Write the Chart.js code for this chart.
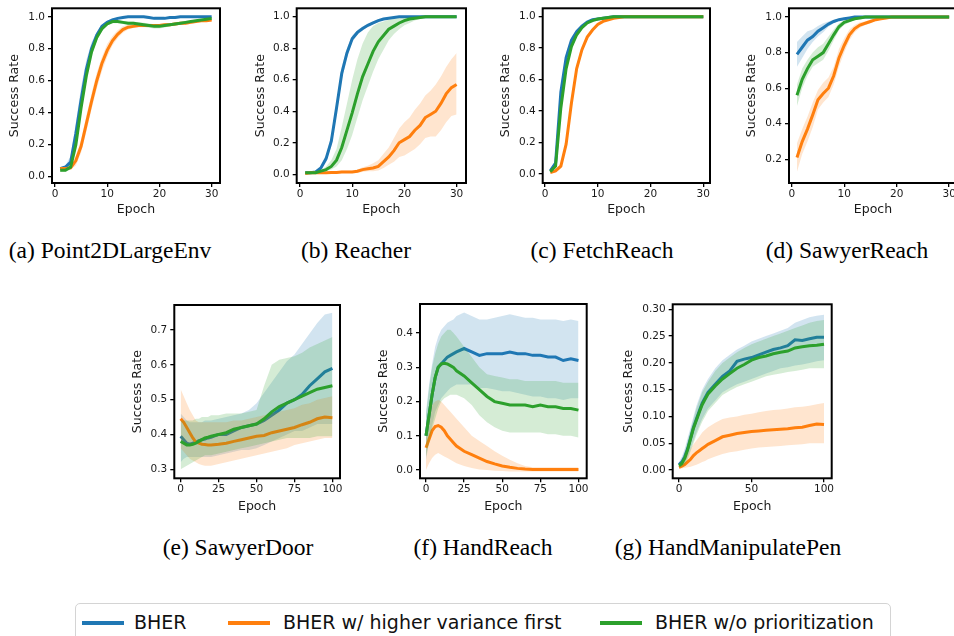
<!DOCTYPE html>
<html>
<head>
<meta charset="utf-8">
<script src="https://cdn.jsdelivr.net/npm/chart.js@4.4.1/dist/chart.umd.min.js"></script>
<style>
body { margin: 0; width: 954px; height: 636px; overflow: hidden; background: #fff; position: relative; }
canvas { position: absolute; }
.cap { position: absolute; width: 400px; text-align: center; font-family: "Liberation Serif", serif; font-size: 23.5px; line-height: 26px; color: #000; white-space: nowrap; }
.legend { position: absolute; left: 75px; top: 603px; width: 816px; height: 48px; border: 1px solid #d4d4d4; border-radius: 5px; box-sizing: border-box; }
.lline { position: absolute; height: 4px; top: 621px; }
.ltext { position: absolute; top: 611px; font-family: "DejaVu Sans", sans-serif; font-size: 19px; line-height: 22px; color: #111; white-space: nowrap; }
</style>
</head>
<body>
<canvas id="cA"></canvas>
<canvas id="cB"></canvas>
<canvas id="cC"></canvas>
<canvas id="cD"></canvas>
<canvas id="cE"></canvas>
<canvas id="cF"></canvas>
<canvas id="cG"></canvas>

<div class="cap" style="left:-90px;top:237px">(a) Point2DLargeEnv</div>
<div class="cap" style="left:156px;top:237px">(b) Reacher</div>
<div class="cap" style="left:402px;top:237px">(c) FetchReach</div>
<div class="cap" style="left:647px;top:237px">(d) SawyerReach</div>
<div class="cap" style="left:38px;top:534px">(e) SawyerDoor</div>
<div class="cap" style="left:283px;top:534px">(f) HandReach</div>
<div class="cap" style="left:528px;top:534px">(g) HandManipulatePen</div>

<div class="legend"></div>
<div class="lline" style="left:82px;width:42px;background:#1f77b4"></div>
<div class="ltext" style="left:134px">BHER</div>
<div class="lline" style="left:228px;width:42px;background:#ff7f0e"></div>
<div class="ltext" style="left:283px">BHER w/ higher variance first</div>
<div class="lline" style="left:600px;width:42px;background:#2ca02c"></div>
<div class="ltext" style="left:655px">BHER w/o prioritization</div>

<script>
// epochs
var epochs30 = [1,2,3,4,5,6,7,8,9,10,11,12,13,14,15,16,17,18,19,20,21,22,23,24,25,26,27,28,29,30];
var epochs100 = [0,2,4,6,8,10,12,14,16,18,20,25,30,35,40,45,50,55,60,65,70,75,80,85,90,95,100];

// (a) Point2DLargeEnv
var aBher   = [0.05,0.06,0.09,0.27,0.48,0.67,0.80,0.885,0.94,0.965,0.98,0.99,0.995,1,1,1,1,0.995,0.99,0.99,0.99,0.995,0.995,1,1,1,1,1,1,1];
var aBherLo = [0.04,0.05,0.07,0.22,0.42,0.62,0.76,0.86,0.925,0.955,0.972,0.984,0.99,0.994,0.994,0.994,0.993,0.988,0.983,0.983,0.983,0.988,0.988,0.993,0.994,0.994,0.994,0.994,0.994,0.994];
var aBherHi = [0.06,0.07,0.13,0.34,0.56,0.73,0.84,0.905,0.952,0.975,0.988,0.995,1,1,1,1,1,1,0.997,0.997,0.997,1,1,1,1,1,1,1,1,1];
var aVar    = [0.05,0.05,0.055,0.10,0.19,0.33,0.47,0.60,0.71,0.79,0.85,0.89,0.92,0.935,0.94,0.945,0.945,0.945,0.945,0.945,0.95,0.95,0.955,0.96,0.96,0.965,0.97,0.975,0.975,0.98];
var aVarLo  = [0.04,0.04,0.045,0.07,0.15,0.28,0.42,0.55,0.66,0.75,0.82,0.865,0.9,0.92,0.93,0.935,0.935,0.935,0.935,0.935,0.94,0.94,0.945,0.95,0.95,0.955,0.962,0.967,0.968,0.972];
var aVarHi  = [0.06,0.06,0.065,0.13,0.23,0.38,0.52,0.65,0.75,0.83,0.88,0.915,0.94,0.95,0.953,0.955,0.955,0.955,0.955,0.955,0.96,0.96,0.965,0.97,0.97,0.975,0.978,0.983,0.982,0.988];
var aNoPr   = [0.04,0.04,0.06,0.20,0.43,0.63,0.78,0.87,0.925,0.955,0.97,0.97,0.965,0.96,0.96,0.955,0.95,0.945,0.94,0.94,0.945,0.95,0.955,0.96,0.965,0.97,0.975,0.98,0.985,0.99];
var aNoPrLo = [0.03,0.03,0.045,0.17,0.39,0.60,0.755,0.85,0.91,0.945,0.96,0.96,0.955,0.95,0.95,0.944,0.938,0.932,0.927,0.927,0.933,0.94,0.946,0.952,0.957,0.962,0.968,0.974,0.979,0.984];
var aNoPrHi = [0.05,0.05,0.075,0.23,0.47,0.66,0.805,0.89,0.94,0.965,0.978,0.978,0.975,0.97,0.97,0.966,0.962,0.958,0.953,0.953,0.957,0.96,0.964,0.968,0.973,0.978,0.982,0.986,0.99,0.995];

// (b) Reacher
var bBher   = [0.01,0.01,0.015,0.04,0.10,0.21,0.42,0.64,0.77,0.86,0.90,0.925,0.945,0.96,0.975,0.985,0.99,0.995,1,1,1,1,1,1,1,1,1,1,1,1];
var bBherLo = [0.005,0.005,0.01,0.03,0.08,0.18,0.38,0.60,0.74,0.84,0.885,0.912,0.935,0.952,0.968,0.98,0.986,0.992,0.997,0.998,0.998,0.998,0.998,0.998,0.998,0.998,0.998,0.998,0.998,0.998];
var bBherHi = [0.015,0.015,0.02,0.05,0.12,0.25,0.46,0.68,0.80,0.88,0.915,0.938,0.955,0.968,0.982,0.99,0.994,0.998,1,1,1,1,1,1,1,1,1,1,1,1];
var bVar    = [0.005,0.01,0.01,0.01,0.01,0.012,0.012,0.015,0.015,0.015,0.02,0.03,0.035,0.04,0.05,0.08,0.11,0.15,0.20,0.22,0.24,0.28,0.31,0.36,0.38,0.40,0.45,0.51,0.55,0.57];
var bVarLo  = [0,0.005,0.005,0.005,0.005,0.005,0.005,0.008,0.008,0.008,0.01,0.015,0.02,0.02,0.025,0.04,0.06,0.08,0.11,0.12,0.14,0.16,0.19,0.23,0.24,0.24,0.28,0.33,0.37,0.38];
var bVarHi  = [0.01,0.015,0.015,0.015,0.015,0.02,0.02,0.025,0.025,0.025,0.03,0.045,0.055,0.07,0.09,0.13,0.17,0.23,0.29,0.33,0.36,0.41,0.45,0.50,0.53,0.57,0.62,0.68,0.73,0.77];
var bNoPr   = [0.01,0.01,0.01,0.02,0.03,0.05,0.09,0.17,0.28,0.39,0.51,0.62,0.70,0.78,0.84,0.88,0.92,0.94,0.96,0.975,0.985,0.99,0.995,1,1,1,1,1,1,1];
var bNoPrLo = [0.005,0.005,0.008,0.015,0.02,0.03,0.05,0.09,0.16,0.25,0.36,0.47,0.56,0.65,0.73,0.79,0.85,0.89,0.92,0.945,0.96,0.975,0.985,0.99,0.995,0.998,0.998,0.998,0.998,0.998];
var bNoPrHi = [0.015,0.015,0.015,0.025,0.05,0.09,0.16,0.30,0.45,0.60,0.73,0.83,0.90,0.94,0.96,0.97,0.98,0.985,0.99,0.995,1,1,1,1,1,1,1,1,1,1];

// (c) FetchReach
var cBher   = [0.02,0.07,0.52,0.74,0.85,0.905,0.94,0.965,0.98,0.985,0.99,0.995,1,1,1,1,1,1,1,1,1,1,1,1,1,1,1,1,1,1];
var cBherLo = [0.01,0.05,0.47,0.71,0.83,0.89,0.93,0.957,0.974,0.98,0.986,0.992,0.996,0.998,0.998,0.998,0.998,0.998,0.998,0.998,0.998,0.998,0.998,0.998,0.998,0.998,0.998,0.998,0.998,0.998];
var cBherHi = [0.03,0.09,0.57,0.77,0.87,0.92,0.95,0.972,0.985,0.99,0.994,0.998,1,1,1,1,1,1,1,1,1,1,1,1,1,1,1,1,1,1];
var cVar    = [0.01,0.02,0.05,0.19,0.45,0.67,0.79,0.87,0.915,0.95,0.97,0.98,0.99,0.995,1,1,1,1,1,1,1,1,1,1,1,1,1,1,1,1];
var cVarLo  = [0.005,0.012,0.035,0.16,0.41,0.64,0.77,0.855,0.905,0.942,0.964,0.976,0.986,0.992,0.997,0.998,0.998,0.998,0.998,0.998,0.998,0.998,0.998,0.998,0.998,0.998,0.998,0.998,0.998,0.998];
var cVarHi  = [0.015,0.028,0.065,0.22,0.49,0.70,0.81,0.885,0.925,0.958,0.976,0.985,0.994,0.998,1,1,1,1,1,1,1,1,1,1,1,1,1,1,1,1];
var cNoPr   = [0.015,0.05,0.42,0.67,0.81,0.885,0.93,0.96,0.975,0.985,0.99,0.995,1,1,1,1,1,1,1,1,1,1,1,1,1,1,1,1,1,1];
var cNoPrLo = [0.008,0.035,0.38,0.64,0.79,0.87,0.92,0.952,0.97,0.98,0.986,0.992,0.996,0.998,0.998,0.998,0.998,0.998,0.998,0.998,0.998,0.998,0.998,0.998,0.998,0.998,0.998,0.998,0.998,0.998];
var cNoPrHi = [0.022,0.065,0.46,0.70,0.83,0.9,0.94,0.968,0.98,0.99,0.994,0.998,1,1,1,1,1,1,1,1,1,1,1,1,1,1,1,1,1,1];

// (d) SawyerReach
var dBher   = [0.79,0.83,0.87,0.89,0.92,0.94,0.96,0.975,0.985,0.99,0.995,1,1,1,1,1,1,1,1,1,1,1,1,1,1,1,1,1,1,1];
var dBherLo = [0.72,0.77,0.82,0.86,0.89,0.915,0.945,0.965,0.978,0.985,0.99,0.995,0.998,0.998,0.998,0.998,0.998,0.998,0.998,0.998,0.998,0.998,0.998,0.998,0.998,0.998,0.998,0.998,0.998,0.998];
var dBherHi = [0.86,0.89,0.92,0.93,0.95,0.965,0.975,0.985,0.99,0.995,1,1,1,1,1,1,1,1,1,1,1,1,1,1,1,1,1,1,1,1];
var dVar    = [0.21,0.30,0.37,0.45,0.535,0.57,0.60,0.67,0.77,0.84,0.90,0.935,0.955,0.965,0.975,0.985,0.99,0.995,1,1,1,1,1,1,1,1,1,1,1,1];
var dVarLo  = [0.13,0.23,0.30,0.38,0.48,0.52,0.55,0.62,0.72,0.80,0.87,0.915,0.94,0.955,0.965,0.978,0.985,0.99,0.995,0.998,0.998,0.998,0.998,0.998,0.998,0.998,0.998,0.998,0.998,0.998];
var dVarHi  = [0.29,0.37,0.44,0.52,0.59,0.63,0.66,0.72,0.82,0.88,0.93,0.955,0.97,0.975,0.985,0.99,0.995,1,1,1,1,1,1,1,1,1,1,1,1,1];
var dNoPr   = [0.56,0.65,0.71,0.76,0.78,0.80,0.85,0.90,0.945,0.97,0.98,0.99,0.995,1,1,1,1,1,1,1,1,1,1,1,1,1,1,1,1,1];
var dNoPrLo = [0.50,0.60,0.67,0.72,0.74,0.76,0.81,0.87,0.925,0.955,0.97,0.985,0.99,0.995,0.998,0.998,0.998,0.998,0.998,0.998,0.998,0.998,0.998,0.998,0.998,0.998,0.998,0.998,0.998,0.998];
var dNoPrHi = [0.62,0.71,0.76,0.80,0.83,0.85,0.89,0.93,0.965,0.98,0.99,0.995,1,1,1,1,1,1,1,1,1,1,1,1,1,1,1,1,1,1];

// (e) SawyerDoor
var eBher   = [0.395,0.385,0.375,0.372,0.375,0.378,0.382,0.385,0.387,0.39,0.392,0.40,0.40,0.41,0.42,0.425,0.43,0.44,0.455,0.47,0.49,0.50,0.515,0.54,0.56,0.58,0.59];
var eBherLo = [0.32,0.33,0.335,0.335,0.335,0.335,0.335,0.335,0.335,0.335,0.335,0.34,0.345,0.35,0.355,0.355,0.36,0.37,0.38,0.39,0.40,0.41,0.41,0.42,0.43,0.43,0.43];
var eBherHi = [0.46,0.45,0.44,0.435,0.435,0.435,0.435,0.435,0.44,0.44,0.44,0.445,0.45,0.455,0.46,0.47,0.49,0.52,0.55,0.58,0.61,0.63,0.66,0.69,0.72,0.745,0.75];
var eVar    = [0.445,0.435,0.42,0.405,0.39,0.378,0.375,0.372,0.371,0.37,0.37,0.372,0.375,0.38,0.385,0.39,0.395,0.397,0.405,0.41,0.415,0.42,0.428,0.435,0.445,0.45,0.448];
var eVarLo  = [0.36,0.35,0.34,0.33,0.325,0.32,0.315,0.312,0.31,0.31,0.31,0.315,0.32,0.325,0.33,0.335,0.34,0.345,0.35,0.355,0.36,0.37,0.375,0.38,0.385,0.39,0.39];
var eVarHi  = [0.53,0.51,0.49,0.47,0.455,0.44,0.435,0.435,0.435,0.435,0.435,0.435,0.435,0.44,0.44,0.445,0.45,0.455,0.46,0.465,0.47,0.475,0.485,0.49,0.50,0.505,0.51];
var eNoPr   = [0.38,0.375,0.37,0.37,0.372,0.375,0.38,0.385,0.39,0.392,0.395,0.40,0.405,0.415,0.42,0.425,0.43,0.445,0.465,0.48,0.49,0.50,0.51,0.52,0.53,0.535,0.54];
var eNoPrLo = [0.30,0.305,0.31,0.315,0.32,0.325,0.33,0.335,0.34,0.34,0.34,0.345,0.35,0.355,0.36,0.365,0.37,0.375,0.38,0.385,0.39,0.39,0.39,0.39,0.395,0.395,0.395];
var eNoPrHi = [0.44,0.44,0.44,0.44,0.44,0.445,0.445,0.45,0.45,0.45,0.455,0.455,0.46,0.46,0.46,0.465,0.47,0.54,0.60,0.615,0.62,0.625,0.635,0.65,0.66,0.67,0.68];

// (f) HandReach
var fBher   = [0.10,0.16,0.22,0.27,0.30,0.31,0.32,0.33,0.335,0.34,0.345,0.355,0.345,0.335,0.34,0.34,0.34,0.345,0.34,0.34,0.335,0.335,0.33,0.33,0.32,0.325,0.32];
var fBherLo = [0.03,0.08,0.13,0.17,0.19,0.21,0.22,0.23,0.24,0.245,0.25,0.25,0.25,0.24,0.24,0.235,0.23,0.23,0.225,0.22,0.215,0.215,0.21,0.21,0.205,0.21,0.21];
var fBherHi = [0.17,0.25,0.31,0.36,0.39,0.41,0.42,0.43,0.435,0.44,0.45,0.46,0.45,0.44,0.44,0.445,0.45,0.455,0.45,0.445,0.445,0.44,0.44,0.44,0.435,0.44,0.435];
var fVar    = [0.065,0.09,0.115,0.127,0.13,0.125,0.115,0.10,0.09,0.08,0.07,0.055,0.045,0.035,0.025,0.018,0.012,0.008,0.005,0.003,0.002,0.002,0.002,0.002,0.002,0.002,0.002];
var fVarLo  = [0.0,0.02,0.035,0.045,0.05,0.045,0.04,0.035,0.03,0.025,0.02,0.012,0.006,0.002,0,-0.002,-0.003,-0.004,-0.004,-0.004,-0.004,-0.004,-0.004,-0.004,-0.004,-0.004,-0.004];
var fVarHi  = [0.13,0.16,0.19,0.20,0.205,0.2,0.19,0.18,0.17,0.16,0.15,0.125,0.10,0.085,0.07,0.055,0.042,0.03,0.02,0.012,0.008,0.008,0.008,0.008,0.008,0.008,0.008];
var fNoPr   = [0.10,0.16,0.22,0.27,0.30,0.31,0.312,0.31,0.305,0.30,0.29,0.275,0.255,0.235,0.215,0.20,0.195,0.19,0.19,0.19,0.185,0.19,0.185,0.185,0.18,0.18,0.175];
var fNoPrLo = [0.04,0.08,0.12,0.15,0.18,0.2,0.21,0.215,0.22,0.22,0.22,0.21,0.19,0.16,0.14,0.125,0.115,0.11,0.11,0.11,0.11,0.11,0.105,0.105,0.10,0.10,0.095];
var fNoPrHi = [0.16,0.24,0.30,0.34,0.37,0.39,0.40,0.41,0.41,0.40,0.39,0.36,0.33,0.30,0.28,0.275,0.27,0.265,0.265,0.26,0.26,0.26,0.26,0.26,0.255,0.255,0.255];

// (g) HandManipulatePen
var gBher   = [0.01,0.015,0.025,0.04,0.06,0.08,0.095,0.11,0.125,0.135,0.145,0.16,0.175,0.185,0.203,0.207,0.21,0.215,0.22,0.225,0.228,0.232,0.243,0.242,0.245,0.248,0.248];
var gBherLo = [0.005,0.008,0.012,0.025,0.04,0.055,0.07,0.083,0.095,0.105,0.115,0.13,0.145,0.153,0.16,0.165,0.17,0.175,0.18,0.185,0.19,0.192,0.195,0.197,0.2,0.203,0.205];
var gBherHi = [0.015,0.025,0.04,0.06,0.08,0.10,0.12,0.135,0.15,0.16,0.17,0.19,0.205,0.215,0.225,0.232,0.24,0.245,0.25,0.255,0.26,0.265,0.275,0.28,0.285,0.288,0.29];
var gVar    = [0.005,0.007,0.01,0.015,0.02,0.027,0.032,0.036,0.04,0.044,0.048,0.055,0.062,0.065,0.068,0.07,0.072,0.073,0.074,0.075,0.076,0.077,0.079,0.08,0.083,0.086,0.085];
var gVarLo  = [0.002,0.003,0.004,0.005,0.006,0.008,0.01,0.012,0.015,0.017,0.02,0.025,0.03,0.033,0.035,0.038,0.04,0.042,0.043,0.044,0.045,0.046,0.047,0.048,0.05,0.05,0.05];
var gVarHi  = [0.008,0.012,0.02,0.03,0.04,0.048,0.055,0.062,0.07,0.075,0.08,0.088,0.095,0.098,0.10,0.103,0.105,0.108,0.11,0.112,0.113,0.115,0.117,0.118,0.12,0.123,0.125];
var gNoPr   = [0.008,0.012,0.022,0.038,0.058,0.078,0.093,0.108,0.122,0.132,0.142,0.157,0.17,0.18,0.19,0.197,0.205,0.21,0.213,0.217,0.22,0.222,0.228,0.23,0.232,0.233,0.235];
var gNoPrLo = [0.004,0.006,0.01,0.02,0.035,0.05,0.065,0.078,0.09,0.1,0.11,0.125,0.14,0.148,0.155,0.16,0.165,0.17,0.175,0.178,0.18,0.183,0.185,0.187,0.19,0.19,0.19];
var gNoPrHi = [0.012,0.02,0.035,0.055,0.075,0.095,0.115,0.13,0.145,0.155,0.165,0.185,0.20,0.21,0.22,0.228,0.235,0.24,0.245,0.25,0.255,0.26,0.265,0.27,0.275,0.278,0.28];

// tick labels
var ticks30 = [0,10,20,30];
var ticks100a = [0,25,50,75,100];
var ticks100b = [0,50,100];
var ticksUnit = [0,0.2,0.4,0.6,0.8,1.0];
var ticksD = [0.2,0.4,0.6,0.8,1.0];
var ticksE = [0.3,0.4,0.5,0.6,0.7];
var ticksF = [0,0.1,0.2,0.3,0.4];
var ticksG = [0,0.05,0.10,0.15,0.20,0.25,0.30];

var BLUE = '#1f77b4', ORANGE = '#ff7f0e', GREEN = '#2ca02c';

Chart.defaults.font.family = 'DejaVu Sans';
Chart.defaults.color = '#1a1a1a';

function rgba(hex, a) {
    var n = parseInt(hex.slice(1), 16);
    return 'rgba(' + (n >> 16) + ',' + ((n >> 8) & 255) + ',' + (n & 255) + ',' + a + ')';
}

function pts(xs, ys) {
    return xs.map(function (x, i) { return {x: x, y: ys[i]}; });
}

// draw the black box round the plot
var frame = {
    id: 'frame',
    afterDatasetsDraw: function (chart) {
        var a = chart.chartArea, c = chart.ctx;
        c.save();
        c.strokeStyle = '#000';
        c.lineWidth = 2;
        c.strokeRect(a.left, a.top, a.right - a.left, a.bottom - a.top);
        c.restore();
    }
};

function makeChart(id, g, xs, series, xr, yr, xt, yt, dec) {
    var cl = Math.round(g.labelX - 7.5);
    var ct = Math.round(g.t - 6);
    var yW = g.l - cl;
    var padT = g.t - ct;
    var cw = Math.ceil(yW + g.w + 6);
    var padR = cw - yW - g.w;
    var ch = Math.round(padT + g.h + g.xH);
    var xH = ch - padT - g.h;

    var cv = document.getElementById(id);
    cv.width = cw; cv.height = ch;
    cv.style.left = cl + 'px'; cv.style.top = ct + 'px';

    var ds = [];
    series.forEach(function (s) {
        ds.push({data: pts(xs, s.lo), borderWidth: 0, borderColor: 'transparent', pointRadius: 0, fill: false});
        ds.push({data: pts(xs, s.hi), borderWidth: 0, borderColor: 'transparent', pointRadius: 0, fill: '-1', backgroundColor: rgba(s.color, 0.2)});
        ds.push({data: pts(xs, s.mean), borderColor: s.color, borderWidth: 3, pointRadius: 0, fill: false, tension: 0});
    });
    ds.forEach(function (d, i) { d.order = ds.length - i; });

    var tickGrid = {display: true, drawOnChartArea: false, drawTicks: true, tickLength: 4, color: '#000', lineWidth: 1.3};

    new Chart(cv, {
        type: 'line',
        data: {datasets: ds},
        options: {
            responsive: false,
            animation: false,
            devicePixelRatio: 1,
            layout: {padding: {top: padT, right: padR, left: 0, bottom: 0}},
            plugins: {legend: {display: false}, tooltip: {enabled: false}},
            scales: {
                x: {
                    type: 'linear', min: xr[0], max: xr[1],
                    grid: tickGrid, border: {display: false},
                    ticks: {font: {size: 10.5}, padding: 1, maxRotation: 0, autoSkip: false,
                        callback: function (v) { return String(v); }},
                    title: {display: true, text: 'Epoch', font: {size: 12.5}, padding: 0},
                    afterBuildTicks: function (s) { s.ticks = xt.map(function (v) { return {value: v}; }); },
                    afterFit: function (s) { s.height = xH; s.paddingLeft = 0; s.paddingRight = 0; }
                },
                y: {
                    type: 'linear', min: yr[0], max: yr[1],
                    grid: tickGrid, border: {display: false},
                    ticks: {font: {size: 10.5}, padding: 3,
                        callback: function (v) { return v.toFixed(dec); }},
                    title: {display: true, text: 'Success Rate', font: {size: 12.5}, padding: 0},
                    afterBuildTicks: function (s) { s.ticks = yt.map(function (v) { return {value: v}; }); },
                    afterFit: function (s) { s.width = yW; s.paddingTop = 0; s.paddingBottom = 0; }
                }
            }
        },
        plugins: [frame]
    });
}

makeChart('cA', {l: 52, t: 8.3, w: 168, h: 174.7, labelX: 14, xH: 34}, epochs30, [
    {mean: aBher, lo: aBherLo, hi: aBherHi, color: BLUE},
    {mean: aVar, lo: aVarLo, hi: aVarHi, color: ORANGE},
    {mean: aNoPr, lo: aNoPrLo, hi: aNoPrHi, color: GREEN}
], [-0.57, 31.6], [-0.04, 1.053], ticks30, ticksUnit, 1);

makeChart('cB', {l: 296.7, t: 8.3, w: 169.3, h: 174.7, labelX: 260, xH: 34}, epochs30, [
    {mean: bBher, lo: bBherLo, hi: bBherHi, color: BLUE},
    {mean: bVar, lo: bVarLo, hi: bVarHi, color: ORANGE},
    {mean: bNoPr, lo: bNoPrLo, hi: bNoPrHi, color: GREEN}
], [-0.63, 31.8], [-0.055, 1.053], ticks30, ticksUnit, 1);

makeChart('cC', {l: 542.7, t: 8.3, w: 167.3, h: 174.7, labelX: 505, xH: 34}, epochs30, [
    {mean: cBher, lo: cBherLo, hi: cBherHi, color: BLUE},
    {mean: cVar, lo: cVarLo, hi: cVarHi, color: ORANGE},
    {mean: cNoPr, lo: cNoPrLo, hi: cNoPrHi, color: GREEN}
], [-0.44, 31.27], [-0.057, 1.053], ticks30, ticksUnit, 1);

makeChart('cD', {l: 789, t: 8.3, w: 168, h: 174.7, labelX: 751, xH: 34}, epochs30, [
    {mean: dBher, lo: dBherLo, hi: dBherHi, color: BLUE},
    {mean: dVar, lo: dVarLo, hi: dVarHi, color: ORANGE},
    {mean: dNoPr, lo: dNoPrLo, hi: dNoPrHi, color: GREEN}
], [-0.52, 31.5], [0.067, 1.049], ticks30, ticksD, 1);

makeChart('cE', {l: 174.3, t: 305, w: 165.7, h: 173.3, labelX: 137, xH: 36}, epochs100, [
    {mean: eBher, lo: eBherLo, hi: eBherHi, color: BLUE},
    {mean: eVar, lo: eVarLo, hi: eVarHi, color: ORANGE},
    {mean: eNoPr, lo: eNoPrLo, hi: eNoPrHi, color: GREEN}
], [-4.2, 105], [0.274, 0.772], ticks100a, ticksE, 1);

makeChart('cF', {l: 420, t: 304, w: 166.7, h: 174.3, labelX: 383, xH: 36}, epochs100, [
    {mean: fBher, lo: fBherLo, hi: fBherHi, color: BLUE},
    {mean: fVar, lo: fVarLo, hi: fVarHi, color: ORANGE},
    {mean: fNoPr, lo: fNoPrLo, hi: fNoPrHi, color: GREEN}
], [-3.94, 105.4], [-0.024, 0.485], ticks100a, ticksF, 1);

makeChart('cG', {l: 672.7, t: 304.3, w: 159, h: 174, labelX: 628, xH: 36}, epochs100, [
    {mean: gBher, lo: gBherLo, hi: gBherHi, color: BLUE},
    {mean: gVar, lo: gVarLo, hi: gVarHi, color: ORANGE},
    {mean: gNoPr, lo: gNoPrLo, hi: gNoPrHi, color: GREEN}
], [-4.34, 105.3], [-0.0155, 0.3094], ticks100b, ticksG, 2);
</script>
</body>
</html>
